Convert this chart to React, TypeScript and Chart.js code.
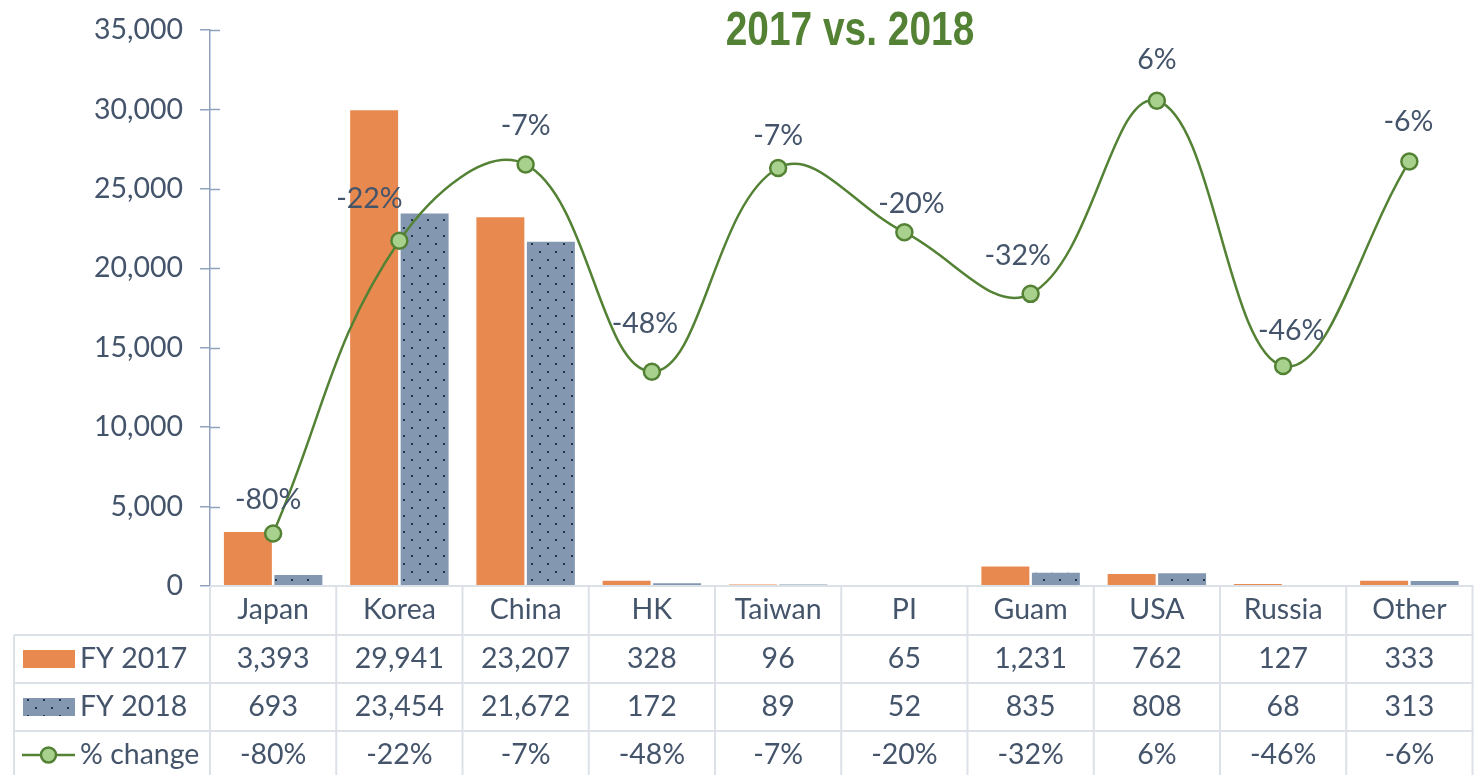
import { useEffect, useRef } from 'react';
import { Chart, registerables } from 'chart.js';

Chart.register(...registerables);

const categories = ['Japan', 'Korea', 'China', 'HK', 'Taiwan', 'PI', 'Guam', 'USA', 'Russia', 'Other'];
const fy2017 = [3393, 29941, 23207, 328, 96, 65, 1231, 762, 127, 333];
const fy2018 = [693, 23454, 21672, 172, 89, 52, 835, 808, 68, 313];
const pctChange = [-0.796, -0.217, -0.066, -0.476, -0.073, -0.2, -0.322, 0.06, -0.4646, -0.06];
const seriesNames = ['FY 2017', 'FY 2018', '% change'];
const titleText = '2017 vs. 2018';

const TEXT = '#44546A';
const ORANGE = '#E8894F';
const BLUEGRAY = '#8497B0';
const GREEN = '#548235';
const MARKER = '#A9D18E';
const AXIS = '#8EA2BE';
const GRID = '#DCE1E8';
const FONT = 'Lato, "Open Sans", sans-serif';
const FS = 28.5;

const fmtNum = (v: number) => v.toLocaleString('en-US');
const fmtPct = (v: number) => Math.round(v * 100) + '%';

function makePattern(ctx: CanvasRenderingContext2D) {
  const c = document.createElement('canvas');
  c.width = 16;
  c.height = 16;
  const p = c.getContext('2d')!;
  p.fillStyle = BLUEGRAY;
  p.fillRect(0, 0, 16, 16);
  p.fillStyle = '#26344C';
  p.fillRect(3, 3, 2, 2);
  p.fillRect(11, 11, 2, 2);
  return ctx.createPattern(c, 'repeat')!;
}

// label nudges (style only) for the % change data labels
const labelNudge: [number, number][] = [
  [-5, -34], [-30, -42], [0, -39], [-7, -48], [0, -32],
  [7, -28], [-13, -38], [0, -41], [8, -35], [-1, -40],
];

export default function App() {
  const ref = useRef<HTMLCanvasElement>(null);

  useEffect(() => {
    const canvas = ref.current!;
    const ctx0 = canvas.getContext('2d')!;
    const pattern = makePattern(ctx0);

    const overlay = {
      id: 'overlay',
      afterDatasetsDraw(chart: any) {
        const { ctx, scales } = chart;
        const meta = chart.getDatasetMeta(0);
        ctx.save();
        ctx.font = `${FS}px ${FONT}`;
        ctx.fillStyle = TEXT;
        ctx.textAlign = 'center';
        ctx.textBaseline = 'middle';
        meta.data.forEach((pt: any, i: number) => {
          const [dx, dy] = labelNudge[i];
          ctx.fillText(fmtPct(pctChange[i]), pt.x + dx, pt.y + dy);
        });
        // inner part of y-axis cross ticks
        const y = scales.y;
        ctx.strokeStyle = AXIS;
        ctx.lineWidth = 1.5;
        y.ticks.forEach((t: any) => {
          if (t.value === 0) return;
          const py = Math.round(y.getPixelForValue(t.value)) + 0.5;
          ctx.beginPath();
          ctx.moveTo(y.right, py);
          ctx.lineTo(y.right + 10, py);
          ctx.stroke();
        });
        ctx.restore();
      },
      afterDraw(chart: any) {
        const { ctx, chartArea, scales } = chart;
        const x = scales.x;
        const n = categories.length;
        const top = chartArea.bottom;
        const rows = [top, top + 49, top + 97, top + 145];
        const bottom = chart.height + 4;
        const left = 14;
        const L = chartArea.left;
        const R = chartArea.right;
        const step = (R - L) / n;
        ctx.save();
        ctx.strokeStyle = GRID;
        ctx.lineWidth = 2;
        const line = (x1: number, y1: number, x2: number, y2: number) => {
          ctx.beginPath();
          ctx.moveTo(x1, y1);
          ctx.lineTo(x2, y2);
          ctx.stroke();
        };
        line(L, rows[0], R + 1, rows[0]);
        for (let r = 1; r < rows.length; r++) line(left, rows[r], R + 1, rows[r]);
        line(left, rows[1], left, bottom);
        for (let i = 0; i <= n; i++) {
          const bx = L + i * step;
          line(bx, rows[0], bx, bottom);
        }
        // table values
        ctx.font = `${FS}px ${FONT}`;
        ctx.fillStyle = TEXT;
        ctx.textAlign = 'center';
        ctx.textBaseline = 'middle';
        const rowMid = (r: number) => (rows[r] + (rows[r + 1] ?? rows[r] + 48)) / 2;
        categories.forEach((_, i) => {
          const cx = x.getPixelForValue(i);
          ctx.fillText(fmtNum(fy2017[i]), cx, rowMid(1));
          ctx.fillText(fmtNum(fy2018[i]), cx, rowMid(2));
          ctx.fillText(fmtPct(pctChange[i]), cx, rowMid(3));
        });
        // legend keys
        ctx.fillStyle = ORANGE;
        ctx.fillRect(23, rowMid(1) - 9, 52, 18);
        ctx.fillStyle = pattern;
        ctx.fillRect(23, rowMid(2) - 9, 52, 18);
        const ly = rowMid(3);
        ctx.strokeStyle = GREEN;
        ctx.lineWidth = 2.5;
        line(22, ly, 75, ly);
        ctx.beginPath();
        ctx.arc(48.5, ly, 7.5, 0, Math.PI * 2);
        ctx.fillStyle = MARKER;
        ctx.fill();
        ctx.stroke();
        ctx.fillStyle = TEXT;
        ctx.textAlign = 'left';
        ctx.fillText(seriesNames[0], 80, rowMid(1));
        ctx.fillText(seriesNames[1], 80, rowMid(2));
        ctx.fillText(seriesNames[2], 80, rowMid(3));
        // title (narrow bold)
        ctx.font = `bold 48px "Liberation Sans", Arial, sans-serif`;
        ctx.fillStyle = GREEN;
        ctx.textAlign = 'center';
        ctx.textBaseline = 'alphabetic';
        ctx.translate(850, 45);
        ctx.scale(0.81, 1);
        ctx.fillText(titleText, 0, 0);
        ctx.restore();
      },
    };

    const chart = new Chart(canvas, {
      type: 'bar',
      data: {
        labels: categories,
        datasets: [
          {
            type: 'line',
            label: seriesNames[2],
            data: pctChange,
            yAxisID: 'y1',
            borderColor: GREEN,
            borderWidth: 2.5,
            tension: 0.4,
            pointRadius: 8,
            pointBackgroundColor: MARKER,
            pointBorderColor: GREEN,
            pointBorderWidth: 2.5,
            order: 0,
          } as any,
          {
            label: seriesNames[0],
            data: fy2017,
            backgroundColor: ORANGE,
            categoryPercentage: 0.8,
            barPercentage: 0.95,
            yAxisID: 'y',
            order: 1,
          },
          {
            label: seriesNames[1],
            data: fy2018,
            backgroundColor: pattern,
            categoryPercentage: 0.8,
            barPercentage: 0.95,
            yAxisID: 'y',
            order: 2,
          },
        ],
      },
      options: {
        responsive: false,
        animation: false,
        layout: { padding: { top: 30, right: 6, left: 0, bottom: 0 } },
        plugins: { legend: { display: false }, tooltip: { enabled: false }, title: { display: false } },
        scales: {
          x: {
            offset: true,
            grid: { display: false, drawTicks: false },
            border: { display: false },
            ticks: { color: TEXT, font: { family: FONT, size: FS }, padding: 7, maxRotation: 0, autoSkip: false },
            afterFit: (s: any) => { s.height = 189; s.paddingLeft = 0; s.paddingRight = 0; },
          },
          y: {
            min: 0,
            max: 35000,
            ticks: {
              stepSize: 5000,
              color: TEXT,
              font: { family: FONT, size: FS },
              padding: 17,
              callback: (v: any) => fmtNum(Number(v)),
            },
            grid: { drawOnChartArea: false, tickLength: 10, color: AXIS, lineWidth: 1.5 },
            border: { display: true, color: AXIS, width: 1.5 },
            afterFit: (s: any) => { s.width = 210; s.paddingTop = 0; s.paddingBottom = 0; },
          },
          y1: {
            display: false,
            min: -0.9,
            max: 0.2,
            position: 'right',
          },
        },
      },
      plugins: [overlay],
    });

    return () => chart.destroy();
  }, []);

  return (
    <div style={{ position: 'fixed', left: 0, top: 0, width: 1483, height: 775, background: '#fff' }}>
      <canvas ref={ref} width={1483} height={775} style={{ display: 'block' }} />
    </div>
  );
}
